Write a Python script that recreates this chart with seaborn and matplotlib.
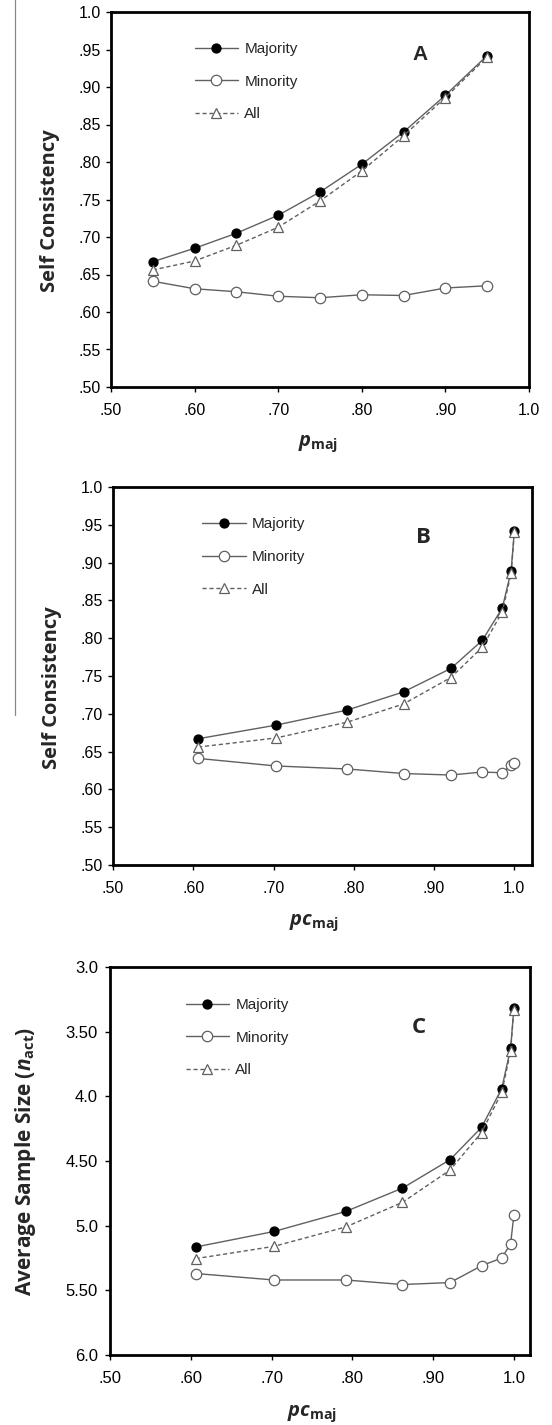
import matplotlib
matplotlib.use("Agg")
import matplotlib.pyplot as plt
from matplotlib.lines import Line2D
import seaborn as sns
import pandas as pd

sns.set_style("ticks")
plt.rcParams['font.family'] = ['Liberation Sans', 'DejaVu Sans']
plt.rcParams['mathtext.fontset'] = 'custom'
plt.rcParams['mathtext.it'] = 'Open Sans:italic:bold'
plt.rcParams['mathtext.bf'] = 'Open Sans:bold'
plt.rcParams['mathtext.rm'] = 'Open Sans:bold'

# panel A: x = p_maj
p_maj = [.55, .60, .65, .70, .75, .80, .85, .90, .95]
# panels B, C: x = pc_maj
pc_maj = [.606, .703, .792, .862, .921, .960, .985, .996, 1.0]

sc_majority = [.667, .685, .705, .729, .760, .797, .840, .889, .942]
sc_minority = [.641, .631, .627, .621, .619, .623, .622, .632, .635]
sc_all = [.656, .668, .689, .713, .748, .788, .835, .886, .940]

n_majority = [5.165, 5.045, 4.89, 4.71, 4.49, 4.24, 3.94, 3.63, 3.32]
n_minority = [5.37, 5.42, 5.42, 5.455, 5.44, 5.31, 5.25, 5.14, 4.92]
n_all = [5.255, 5.16, 5.01, 4.82, 4.57, 4.28, 3.97, 3.65, 3.33]

sc_ticks = [.50, .55, .60, .65, .70, .75, .80, .85, .90, .95, 1.0]
sc_ticklabels = [".50", ".55", ".60", ".65", ".70", ".75", ".80", ".85", ".90", ".95", "1.0"]
x_ticks = [.50, .60, .70, .80, .90, 1.0]
x_ticklabels = [".50", ".60", ".70", ".80", ".90", "1.0"]
n_ticks = [3.0, 3.5, 4.0, 4.5, 5.0, 5.5, 6.0]
n_ticklabels = ["3.0", "3.50", "4.0", "4.50", "5.0", "5.50", "6.0"]

line_col = "#606060"
styles = {
    "Majority": dict(marker="o", markersize=6.5, markerfacecolor="black",
                     markeredgecolor="black", linestyle="-"),
    "Minority": dict(marker="o", markersize=7.5, markerfacecolor="white",
                     markeredgecolor=line_col, linestyle="-"),
    "All": dict(marker="^", markersize=6.5, markerfacecolor="white",
                markeredgecolor=line_col, linestyle=(0, (3, 2))),
}

fig = plt.figure(figsize=(5.52, 14.25), dpi=100)
W, H = 552, 1425


def make_axes(l, t, r, b):
    return fig.add_axes([l / W, 1 - b / H, (r - l) / W, (b - t) / H])


def draw_panel(ax, x, series, legend_x, ticksize, ypad):
    for name, y in series:
        df = pd.DataFrame({"x": x, "y": y})
        st = styles[name]
        sns.lineplot(data=df, x="x", y="y", ax=ax, color=line_col, lw=1.0,
                     marker=st["marker"], markersize=st["markersize"],
                     markerfacecolor=st["markerfacecolor"],
                     markeredgecolor=st["markeredgecolor"], markeredgewidth=0.9,
                     linestyle=st["linestyle"], label=name, zorder=3)
    ax.legend(loc="upper left", bbox_to_anchor=(legend_x, 0.92), frameon=False,
              fontsize=11, handlelength=2.85, handletextpad=0.4,
              labelspacing=1.22, borderaxespad=0, borderpad=0)
    for s in ax.spines.values():
        s.set_linewidth(2.0)
        s.set_color("black")
    ax.tick_params(direction="out", length=3.6, width=1, labelsize=ticksize,
                   colors="black")
    ax.tick_params(axis="x", pad=8)
    ax.tick_params(axis="y", pad=ypad)


# vertical rule at the left edge
fig.add_artist(Line2D([15 / W, 15 / W], [1, 1 - 715 / H], color="#888888", lw=0.9))

# Panel A
axA = make_axes(111, 12, 529, 387)
draw_panel(axA, p_maj, [("Majority", sc_majority), ("Minority", sc_minority),
                        ("All", sc_all)], 0.20, 11.5, 3.5)
axA.set_xlim(0.5, 1.0)
axA.set_ylim(0.5, 1.0)
axA.set_yticks(sc_ticks, sc_ticklabels)
axA.set_xticks(x_ticks, x_ticklabels)
axA.set_ylabel("Self Consistency", fontsize=14.5, fontweight="bold", family="Open Sans")
axA.set_xlabel(r"$\mathit{p}_{\mathbf{maj}}$", fontsize=14.5)
axA.yaxis.set_label_coords(-0.122, 0.47)
axA.xaxis.set_label_coords(0.495, -0.123)
axA.text(0.74, 0.888, "A", transform=axA.transAxes, fontsize=15, fontweight="bold",
         ha="center", va="center")

# Panel B
axB = make_axes(113, 487, 532, 865)
draw_panel(axB, pc_maj, [("Majority", sc_majority), ("Minority", sc_minority),
                         ("All", sc_all)], 0.213, 11.5, 3.5)
axB.set_xlim(0.5, 1.022)
axB.set_ylim(0.5, 1.0)
axB.set_yticks(sc_ticks, sc_ticklabels)
axB.set_xticks(x_ticks, x_ticklabels)
axB.set_ylabel("Self Consistency", fontsize=14.5, fontweight="bold", family="Open Sans")
axB.set_xlabel(r"$\mathit{pc}_{\mathbf{maj}}$", fontsize=14.5)
axB.yaxis.set_label_coords(-0.122, 0.47)
axB.xaxis.set_label_coords(0.48, -0.125)
axB.text(0.74, 0.866, "B", transform=axB.transAxes, fontsize=16, fontweight="bold",
         family="Open Sans", ha="center", va="center")

# Panel C
axC = make_axes(110, 967, 530, 1355)
draw_panel(axC, pc_maj, [("Majority", n_majority), ("Minority", n_minority),
                         ("All", n_all)], 0.18, 12, 5)
axC.set_xlim(0.5, 1.02)
axC.set_ylim(6.0, 3.0)
axC.set_yticks(n_ticks, n_ticklabels)
axC.set_xticks(x_ticks, x_ticklabels)
axC.set_ylabel(r"Average Sample Size ($\mathit{n}_{\mathbf{act}}$)", fontsize=15,
               fontweight="bold", family="Open Sans")
axC.set_xlabel(r"$\mathit{pc}_{\mathbf{maj}}$", fontsize=14.5)
axC.yaxis.set_label_coords(-0.172, 0.5)
axC.xaxis.set_label_coords(0.482, -0.125)
axC.text(0.736, 0.843, "C", transform=axC.transAxes, fontsize=16, fontweight="bold",
         family="Open Sans", ha="center", va="center")

fig.savefig("out.png", dpi=100)
